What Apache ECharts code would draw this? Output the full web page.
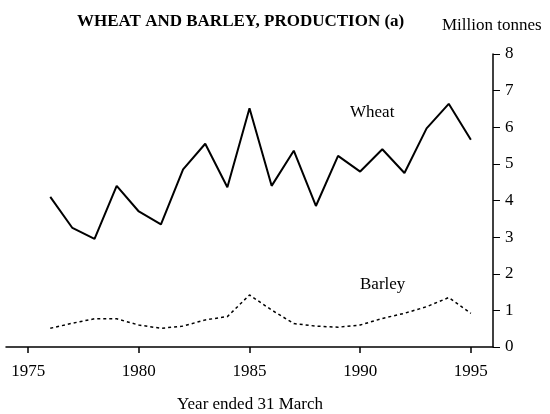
<!DOCTYPE html>
<html>
<head>
<meta charset="utf-8">
<script src="https://cdn.jsdelivr.net/npm/echarts@6/dist/echarts.min.js"></script>
<style>
  html, body { margin: 0; padding: 0; background: #fff; }
  #main { width: 550px; height: 414px; }
</style>
</head>
<body>
<div id="main"></div>
<script>
// years ended 31 March
const years = [1976, 1977, 1978, 1979, 1980, 1981, 1982, 1983, 1984, 1985,
  1986, 1987, 1988, 1989, 1990, 1991, 1992, 1993, 1994, 1995];
// million tonnes
const wheat = [4.1, 3.25, 2.95, 4.4, 3.7, 3.35, 4.85, 5.55, 4.36, 6.52,
  4.4, 5.36, 3.85, 5.22, 4.79, 5.4, 4.75, 5.97, 6.64, 5.66];
const barley = [0.51, 0.65, 0.77, 0.77, 0.6, 0.51, 0.57, 0.74, 0.83, 1.42,
  1.01, 0.64, 0.57, 0.54, 0.6, 0.78, 0.92, 1.1, 1.35, 0.92];
const yearTicks = [1975, 1980, 1985, 1990, 1995];

const serif = '"Liberation Serif", "DejaVu Serif", serif';

const chart = echarts.init(document.getElementById('main'));

const option = {
  animation: false,
  backgroundColor: '#fff',
  grid: { left: 6, right: 57, top: 54, bottom: 67 },
  graphic: [
    {
      type: 'text', left: 77, top: 13,
      style: { text: 'WHEAT AND BARLEY, PRODUCTION (a)', font: 'bold 17px ' + serif, fill: '#000' }
    },
    {
      type: 'text', left: 442, top: 17,
      style: { text: 'Million tonnes', font: '17px ' + serif, fill: '#000' }
    },
    {
      type: 'text', left: 350, top: 104,
      style: { text: 'Wheat', font: '17px ' + serif, fill: '#000' }
    },
    {
      type: 'text', left: 360, top: 276,
      style: { text: 'Barley', font: '17px ' + serif, fill: '#000' }
    },
    {
      type: 'text', left: 177, top: 396,
      style: { text: 'Year ended 31 March', font: '17px ' + serif, fill: '#000' }
    }
  ],
  xAxis: {
    type: 'value',
    min: 1974,
    max: 1996,
    axisLine: { onZero: false, lineStyle: { color: '#000', width: 1.5 } },
    axisTick: { customValues: yearTicks, length: 6, lineStyle: { color: '#000', width: 1.5 } },
    axisLabel: {
      customValues: yearTicks, color: '#000', fontFamily: serif, fontSize: 17, margin: 16,
      formatter: v => String(v)
    },
    splitLine: { show: false }
  },
  yAxis: {
    type: 'value',
    position: 'right',
    min: 0,
    max: 8,
    interval: 1,
    axisLine: { show: true, lineStyle: { color: '#000', width: 1.5 } },
    axisTick: { show: true, length: 7, lineStyle: { color: '#000', width: 1 } },
    axisLabel: { color: '#000', fontFamily: serif, fontSize: 17, margin: 12 },
    splitLine: { show: false }
  },
  series: [
    {
      name: 'Wheat',
      type: 'line',
      data: years.map((y, i) => [y, wheat[i]]),
      symbol: 'none',
      lineStyle: { color: '#000', width: 2 }
    },
    {
      name: 'Barley',
      type: 'line',
      data: years.map((y, i) => [y, barley[i]]),
      symbol: 'none',
      lineStyle: { color: '#000', width: 1.5, type: [3, 3] }
    }
  ]
};

chart.setOption(option);
</script>
</body>
</html>
